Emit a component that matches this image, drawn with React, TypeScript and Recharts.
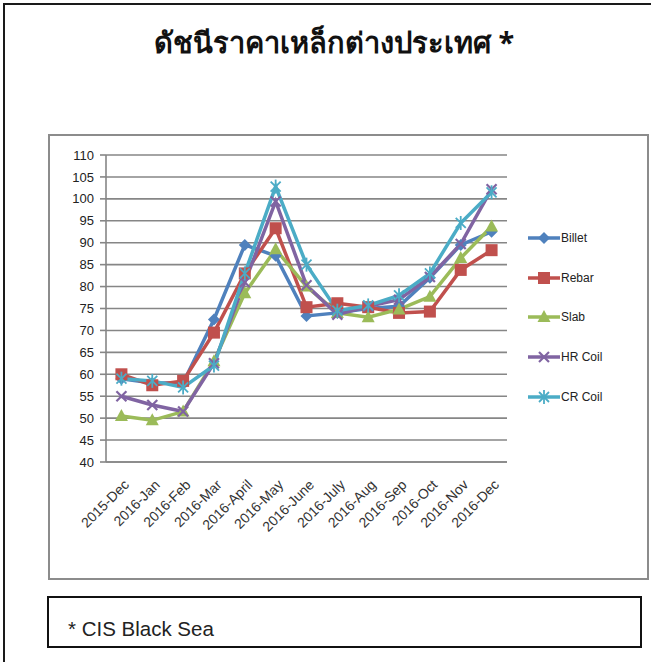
import React from "react";
import {
  LineChart,
  Line,
  XAxis,
  YAxis,
  CartesianGrid,
  Legend,
} from "recharts";

const MONTHS = [
  "2015-Dec",
  "2016-Jan",
  "2016-Feb",
  "2016-Mar",
  "2016-April",
  "2016-May",
  "2016-June",
  "2016-July",
  "2016-Aug",
  "2016-Sep",
  "2016-Oct",
  "2016-Nov",
  "2016-Dec",
];

const BILLET = [59, 58, 58, 72.5, 89.5, 87, 73.3, 74, 75, 75.5, 82, 89.5, 92.5];
const REBAR = [60, 57.5, 58.5, 69.5, 83, 93.3, 75.3, 76.2, 75.3, 74, 74.3, 83.8, 88.3];
const SLAB = [50.5, 49.5, 51.5, 63, 78.5, 88.5, 80, 74, 73, 74.8, 77.7, 86.5, 93.7];
const HR_COIL = [55, 53, 51.5, 62.5, 81, 99.4, 80.3, 73.6, 75.5, 77, 82.2, 89.7, 102.2];
const CR_COIL = [59, 58.5, 57, 62, 83, 102.8, 85, 74.5, 75.7, 78, 83, 94.5, 101.5];

const Y_TICKS = [40, 45, 50, 55, 60, 65, 70, 75, 80, 85, 90, 95, 100, 105, 110];

const SERIES = [
  { key: "Billet", values: BILLET, color: "#4F81BD", shape: "diamond" },
  { key: "Rebar", values: REBAR, color: "#C0504D", shape: "square" },
  { key: "Slab", values: SLAB, color: "#9BBB59", shape: "triangle" },
  { key: "HR Coil", values: HR_COIL, color: "#8064A2", shape: "x" },
  { key: "CR Coil", values: CR_COIL, color: "#4BACC6", shape: "star" },
];

const data = MONTHS.map((m, i) => {
  const row: Record<string, number | string> = { idx: i, month: m };
  SERIES.forEach((s) => {
    row[s.key] = s.values[i];
  });
  return row;
});

const labelTicks = MONTHS.map((_, i) => i);
const edgeTicks = [...MONTHS.map((_, i) => i - 0.5), MONTHS.length - 0.5];

function Marker({ shape, cx, cy, color }: { shape: string; cx: number; cy: number; color: string }) {
  if (shape === "diamond") {
    return (
      <polygon
        points={`${cx},${cy - 6} ${cx + 6},${cy} ${cx},${cy + 6} ${cx - 6},${cy}`}
        fill={color}
      />
    );
  }
  if (shape === "square") {
    return <rect x={cx - 6} y={cy - 6} width={12} height={12} fill={color} />;
  }
  if (shape === "triangle") {
    return (
      <polygon
        points={`${cx},${cy - 7} ${cx + 6.5},${cy + 5} ${cx - 6.5},${cy + 5}`}
        fill={color}
      />
    );
  }
  if (shape === "x") {
    return (
      <g stroke={color} strokeWidth={2.2}>
        <line x1={cx - 5} y1={cy - 5} x2={cx + 5} y2={cy + 5} />
        <line x1={cx - 5} y1={cy + 5} x2={cx + 5} y2={cy - 5} />
      </g>
    );
  }
  return (
    <g stroke={color} strokeWidth={1.8}>
      <line x1={cx - 5} y1={cy - 5} x2={cx + 5} y2={cy + 5} />
      <line x1={cx - 5} y1={cy + 5} x2={cx + 5} y2={cy - 5} />
      <line x1={cx} y1={cy - 7} x2={cx} y2={cy + 7} />
    </g>
  );
}

function LegendBox() {
  return (
    <div style={{ width: 120 }}>
      {SERIES.map((s) => (
        <div key={s.key} style={{ height: 39.7, display: "flex", alignItems: "center" }}>
          <svg width={33} height={14} style={{ display: "block" }}>
            <line x1={1} y1={7} x2={33} y2={7} stroke={s.color} strokeWidth={3.5} />
            <Marker shape={s.shape} cx={17} cy={7} color={s.color} />
          </svg>
          <span
            style={{
              fontFamily: "'Liberation Sans', Arial, sans-serif",
              fontSize: 12,
              color: "#222",
              marginLeft: 1,
            }}
          >
            {s.key}
          </span>
        </div>
      ))}
    </div>
  );
}

function MonthTick(props: any) {
  const { x, y, payload } = props;
  return (
    <text
      x={x}
      y={y}
      dx={2}
      dy={10}
      textAnchor="end"
      transform={`rotate(-45, ${x}, ${y})`}
      fontFamily="'Liberation Sans', Arial, sans-serif"
      fontSize={14}
      fill="#333"
    >
      {MONTHS[payload.value]}
    </text>
  );
}

export default function App() {
  return (
    <div
      style={{
        position: "absolute",
        left: 0,
        top: 0,
        width: 651,
        height: 662,
        overflow: "hidden",
        background: "#fff",
      }}
    >
      <div
        style={{
          position: "absolute",
          left: 3,
          top: 3,
          width: 720,
          height: 720,
          border: "2px solid #1a1a1a",
        }}
      />
      <div
        style={{
          position: "absolute",
          left: 0,
          width: 668,
          top: 20,
          textAlign: "center",
          fontFamily: "'Noto Sans', 'DejaVu Sans', sans-serif",
          fontWeight: "bold",
          fontSize: 29,
          color: "#111",
        }}
      >
        ดัชนีราคาเหล็กต่างประเทศ *
      </div>
      <div
        style={{
          position: "absolute",
          left: 48,
          top: 134,
          width: 601,
          height: 446,
          boxSizing: "border-box",
          border: "2px solid #8c8c8c",
        }}
      >
        <LineChart
          width={597}
          height={442}
          data={data}
          margin={{ top: 19, right: 140, bottom: 114, left: 6 }}
        >
          <CartesianGrid horizontal vertical={false} stroke="#868686" strokeWidth={1.6} />
          <XAxis
            xAxisId="edges"
            type="number"
            dataKey="idx"
            domain={[-0.5, MONTHS.length - 0.5]}
            ticks={edgeTicks}
            interval={0}
            tick={false}
            tickSize={5}
            height={1}
            axisLine={{ stroke: "#868686", strokeWidth: 1.6 }}
            tickLine={{ stroke: "#868686", strokeWidth: 1.6 }}
          />
          <XAxis
            xAxisId="months"
            type="number"
            dataKey="idx"
            domain={[-0.5, MONTHS.length - 0.5]}
            ticks={labelTicks}
            interval={0}
            height={1}
            axisLine={false}
            tickLine={false}
            tickSize={0}
            tickMargin={17}
            tick={<MonthTick />}
          />
          <YAxis
            type="number"
            domain={[40, 110]}
            ticks={Y_TICKS}
            interval={0}
            width={50}
            tickSize={6}
            tickMargin={6}
            axisLine={{ stroke: "#868686", strokeWidth: 1.6 }}
            tickLine={{ stroke: "#868686", strokeWidth: 1.6 }}
            tick={{ fontFamily: "'Liberation Sans', Arial, sans-serif", fontSize: 13, fill: "#222" }}
          />
          <Legend
            layout="vertical"
            align="center"
            verticalAlign="middle"
            content={() => <LegendBox />}
            wrapperStyle={{ left: 477, top: 82, width: 120 }}
          />
          {SERIES.map((s) => (
            <Line
              key={s.key}
              xAxisId="months"
              type="linear"
              dataKey={s.key}
              stroke={s.color}
              strokeWidth={3.5}
              isAnimationActive={false}
              dot={(p: any) => (
                <Marker key={`${s.key}-${p.index}`} shape={s.shape} cx={p.cx} cy={p.cy} color={s.color} />
              )}
              activeDot={false}
            />
          ))}
        </LineChart>
      </div>
      <div
        style={{
          position: "absolute",
          left: 47,
          top: 596,
          width: 595,
          height: 52,
          boxSizing: "border-box",
          border: "2px solid #111",
          fontFamily: "'Liberation Sans', Arial, sans-serif",
          fontSize: 20.5,
          color: "#222",
          paddingLeft: 19,
          paddingTop: 19,
        }}
      >
        * CIS Black Sea
      </div>
    </div>
  );
}
